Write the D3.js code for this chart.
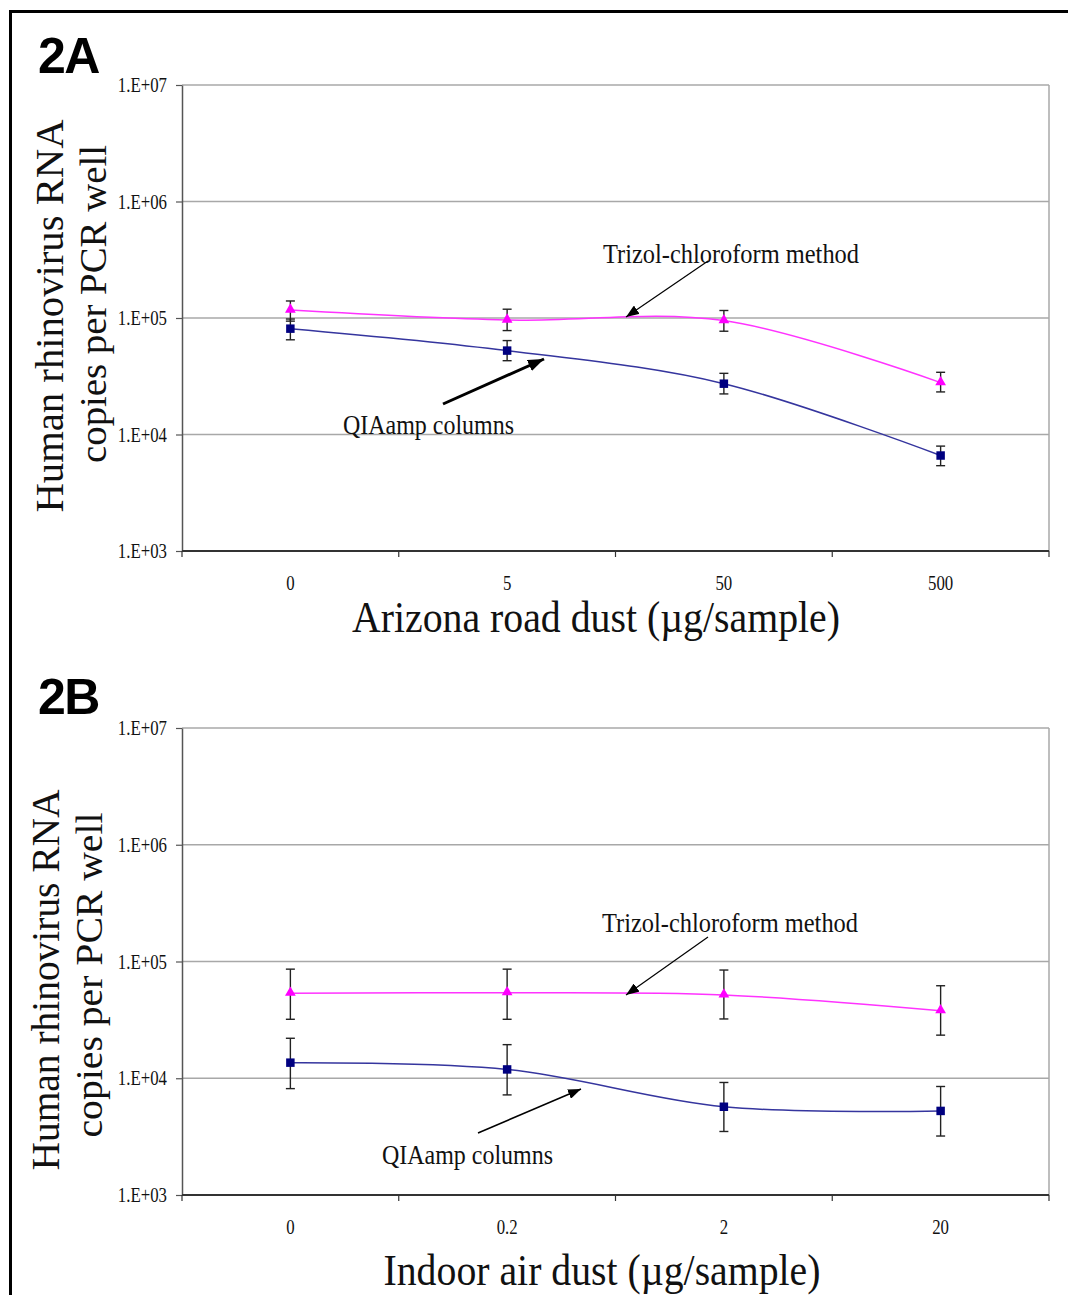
<!DOCTYPE html>
<html>
<head>
<meta charset="utf-8">
<script src="https://cdn.jsdelivr.net/npm/d3@7"></script>
<style>
  html, body { margin: 0; padding: 0; background: #fff; }
  svg { display: block; }
  text { font-family: "Liberation Serif", "Times New Roman", serif; fill: #111; }
</style>
</head>
<body>
<svg id="chart" width="1068" height="1295"></svg>
<script>
// ---------------- DATA ----------------
const categoriesA = ["0", "5", "50", "500"];
const trizolA      = [1.17e5, 9.6e4, 9.5e4, 2.79e4];
const trizolAHi    = [1.40e5, 1.19e5, 1.16e5, 3.42e4];
const trizolALo    = [9.4e4, 7.8e4, 7.7e4, 2.32e4];
const qiaampA      = [8.1e4, 5.25e4, 2.73e4, 6.6e3];
const qiaampAHi    = [9.8e4, 6.4e4, 3.35e4, 7.95e3];
const qiaampALo    = [6.5e4, 4.3e4, 2.23e4, 5.4e3];

const categoriesB = ["0", "0.2", "2", "20"];
const trizolB      = [5.35e4, 5.4e4, 5.17e4, 3.79e4];
const trizolBHi    = [8.6e4, 8.6e4, 8.45e4, 6.2e4];
const trizolBLo    = [3.2e4, 3.2e4, 3.22e4, 2.34e4];
const qiaampB      = [1.36e4, 1.19e4, 5.7e3, 5.25e3];
const qiaampBHi    = [2.2e4, 1.94e4, 9.2e3, 8.5e3];
const qiaampBLo    = [8.15e3, 7.2e3, 3.5e3, 3.2e3];

const yTickValues = [1e3, 1e4, 1e5, 1e6, 1e7];
const yTickLabels = ["1.E+03", "1.E+04", "1.E+05", "1.E+06", "1.E+07"];
const yTitleLines = ["Human rhinovirus RNA", "copies per PCR well"];
const xTitleA = "Arizona road dust (\u00B5g/sample)";
const xTitleB = "Indoor air dust (\u00B5g/sample)";
const trizolLabel = "Trizol-chloroform method";
const qiaampLabel = "QIAamp columns";

// ---------------- DRAW ----------------
const svg = d3.select("#chart");

const defs = svg.append("defs");
function arrowMarker(id, w, h) {
  defs.append("marker").attr("id", id)
    .attr("viewBox", `0 0 ${w} ${h}`).attr("refX", w).attr("refY", h / 2)
    .attr("markerWidth", w).attr("markerHeight", h)
    .attr("markerUnits", "userSpaceOnUse").attr("orient", "auto")
    .append("path").attr("d", `M0,0L${w},${h / 2}L0,${h}Z`).attr("fill", "#000");
}
arrowMarker("headThin", 13, 10);
arrowMarker("headThick", 16, 12);

// outer frame
svg.append("rect").attr("x", 10.5).attr("y", 11.5).attr("width", 1200).attr("height", 1400)
  .attr("fill", "none").attr("stroke", "#000").attr("stroke-width", 3);

const left = 182, right = 1049;

// condense text horizontally (the original is narrow and tall)
function condense(sel, factor) {
  sel.each(function () {
    const n = this.getComputedTextLength();
    d3.select(this).attr("textLength", n * factor).attr("lengthAdjust", "spacingAndGlyphs");
  });
}

function drawPanel(cfg) {
  const g = svg.append("g");
  const x = d3.scaleBand().domain(cfg.categories).range([left, right]).padding(0);
  const y = d3.scaleLog().domain([1e3, 1e7]).range([cfg.bottom, cfg.top]);
  const cx = c => x(c) + x.bandwidth() / 2;

  // gridlines
  g.append("g").selectAll("line").data(yTickValues.slice(1)).join("line")
    .attr("x1", left).attr("x2", right)
    .attr("y1", d => y(d)).attr("y2", d => y(d))
    .attr("stroke", "#a8a8a8").attr("stroke-width", 1.5);
  // right border of plot area
  g.append("line").attr("x1", right).attr("x2", right).attr("y1", cfg.top).attr("y2", cfg.bottom)
    .attr("stroke", "#a8a8a8").attr("stroke-width", 1.5);

  // y axis
  const yAxis = d3.axisLeft(y).tickValues(yTickValues)
    .tickFormat((d, i) => yTickLabels[i]).tickSize(6).tickSizeOuter(0).tickPadding(9);
  const ya = g.append("g").attr("transform", `translate(${left},0)`).call(yAxis);
  ya.select(".domain").attr("stroke", "#555").attr("stroke-width", 1.5);
  ya.selectAll(".tick line").attr("stroke", "#555").attr("stroke-width", 1.2);
  const ytx = ya.selectAll(".tick text").attr("font-size", 20).attr("fill", "#111").attr("dy", "0.33em");
  condense(ytx, 0.84);

  // x axis
  const xa = g.append("g").attr("transform", `translate(0,${cfg.bottom})`);
  xa.append("line").attr("x1", left).attr("x2", right).attr("y1", 0).attr("y2", 0)
    .attr("stroke", "#333").attr("stroke-width", 2);
  const bounds = cfg.categories.map(c => x(c)).concat([right]);
  xa.selectAll("line.tk").data(bounds).join("line").attr("class", "tk")
    .attr("x1", d => d).attr("x2", d => d).attr("y1", 0).attr("y2", 6)
    .attr("stroke", "#333").attr("stroke-width", 1.2);
  const xtx = xa.selectAll("text").data(cfg.categories).join("text")
    .attr("x", d => cx(d)).attr("y", 39).attr("text-anchor", "middle")
    .attr("font-size", 21).attr("fill", "#111").text(d => d);
  condense(xtx, 0.8);

  // series
  const line = d3.line().x((d, i) => cx(cfg.categories[i])).y(d => y(d))
    .curve(d3.curveCatmullRom.alpha(0));
  function series(vals, hi, lo, color, lineColor, shape) {
    g.append("path").datum(vals).attr("d", line).attr("fill", "none")
      .attr("stroke", lineColor).attr("stroke-width", 1.5);
    const eb = g.append("g");
    eb.selectAll("line.v").data(vals).join("line").attr("class", "v")
      .attr("x1", (d, i) => cx(cfg.categories[i])).attr("x2", (d, i) => cx(cfg.categories[i]))
      .attr("y1", (d, i) => y(hi[i])).attr("y2", (d, i) => y(lo[i]))
      .attr("stroke", "#222").attr("stroke-width", 1.4);
    [hi, lo].forEach((arr, k) => {
      eb.selectAll("line.c" + k).data(arr).join("line").attr("class", "c" + k)
        .attr("x1", (d, i) => cx(cfg.categories[i]) - 4.5).attr("x2", (d, i) => cx(cfg.categories[i]) + 4.5)
        .attr("y1", d => y(d)).attr("y2", d => y(d))
        .attr("stroke", "#222").attr("stroke-width", 1.4);
    });
    const sym = d3.symbol().type(shape === "square" ? d3.symbolSquare : d3.symbolTriangle)
      .size(shape === "square" ? 72 : 50);
    g.selectAll(null).data(vals).join("path")
      .attr("transform", (d, i) => `translate(${cx(cfg.categories[i])},${y(d) + (shape === "square" ? 0 : -0.5)})`)
      .attr("d", sym).attr("fill", color);
  }
  series(cfg.trizol, cfg.trizolHi, cfg.trizolLo, "#ff00ff", "#ff33ff", "triangle");
  series(cfg.qiaamp, cfg.qiaampHi, cfg.qiaampLo, "#000080", "#35359e", "square");

  // panel label
  g.append("text").attr("x", cfg.label[0]).attr("y", cfg.label[1])
    .style("font-family", "'Liberation Sans', Arial, sans-serif").style("font-weight", "bold")
    .attr("font-size", 50).attr("letter-spacing", -1.5).style("fill", "#000").text(cfg.labelText);

  // y title
  cfg.yTitle.forEach((p, i) => {
    g.append("text").attr("transform", `translate(${p[0]},${p[1]}) rotate(-90)`)
      .attr("text-anchor", "middle").attr("font-size", p[3]).attr("fill", "#111")
      .attr("textLength", p[2]).attr("lengthAdjust", "spacingAndGlyphs")
      .text(yTitleLines[i]);
  });

  // x title
  g.append("text").attr("x", cfg.xTitle[0]).attr("y", cfg.xTitle[1])
    .attr("text-anchor", "middle").attr("font-size", 44).attr("fill", "#111")
    .attr("textLength", cfg.xTitle[2]).attr("lengthAdjust", "spacingAndGlyphs")
    .text(cfg.xTitleText);

  // annotations
  cfg.annotations.forEach(a => {
    g.append("text").attr("x", a.text[0]).attr("y", a.text[1]).attr("font-size", 27)
      .attr("textLength", a.text[2]).attr("lengthAdjust", "spacingAndGlyphs")
      .attr("fill", "#111").text(a.label);
    g.append("line").attr("x1", a.from[0]).attr("y1", a.from[1]).attr("x2", a.to[0]).attr("y2", a.to[1])
      .attr("stroke", "#000").attr("stroke-width", a.w)
      .attr("marker-end", a.w > 2 ? "url(#headThick)" : "url(#headThin)");
  });
}

drawPanel({
  categories: categoriesA, top: 85, bottom: 551,
  trizol: trizolA, trizolHi: trizolAHi, trizolLo: trizolALo,
  qiaamp: qiaampA, qiaampHi: qiaampAHi, qiaampLo: qiaampALo,
  label: [38, 73], labelText: "2A",
  yTitle: [[63, 316, 393, 40], [106, 304, 318, 37]],
  xTitle: [596, 632, 488], xTitleText: xTitleA,
  annotations: [
    { label: trizolLabel, text: [603, 263, 256], from: [708, 261], to: [626, 317], w: 1.2 },
    { label: qiaampLabel, text: [343, 434, 171], from: [443, 404], to: [544, 359], w: 3 }
  ]
});

drawPanel({
  categories: categoriesB, top: 728, bottom: 1195,
  trizol: trizolB, trizolHi: trizolBHi, trizolLo: trizolBLo,
  qiaamp: qiaampB, qiaampHi: qiaampBHi, qiaampLo: qiaampBLo,
  label: [38, 714], labelText: "2B",
  yTitle: [[59, 980, 381, 40], [102, 975, 325, 37]],
  xTitle: [602, 1285, 437], xTitleText: xTitleB,
  annotations: [
    { label: trizolLabel, text: [602, 932, 256], from: [708, 937], to: [626, 995], w: 1.2 },
    { label: qiaampLabel, text: [382, 1164, 171], from: [478, 1133], to: [581, 1089], w: 1.5 }
  ]
});
</script>
</body>
</html>
